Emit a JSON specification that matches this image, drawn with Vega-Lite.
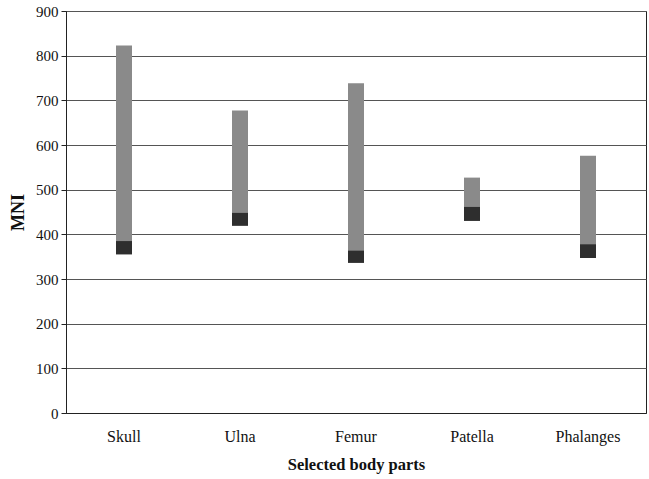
{
  "$schema": "https://vega.github.io/schema/vega-lite/v6.json",
  "autosize": "none",
  "width": 580,
  "height": 402,
  "padding": {"left": 66, "top": 11, "right": 3, "bottom": 66},
  "background": "#ffffff",
  "config": {
    "font": "Liberation Serif",
    "view": {"stroke": "#222222", "strokeWidth": 1}
  },
  "data": {
    "values": [
      {"part": "Skull", "low": 355, "mid": 385, "high": 823},
      {"part": "Ulna", "low": 419, "mid": 448, "high": 677},
      {"part": "Femur", "low": 336, "mid": 364, "high": 738},
      {"part": "Patella", "low": 430, "mid": 462, "high": 527},
      {"part": "Phalanges", "low": 347, "mid": 378, "high": 576}
    ]
  },
  "encoding": {
    "x": {
      "field": "part",
      "type": "nominal",
      "sort": null,
      "scale": {"paddingInner": 0, "paddingOuter": 0},
      "axis": {
        "title": "Selected body parts",
        "titleFont": "Liberation Serif",
        "titleFontSize": 16.5,
        "titleFontWeight": "bold",
        "titleColor": "#111111",
        "titlePadding": 12,
        "labelAngle": 0,
        "labelFont": "Liberation Serif",
        "labelFontSize": 16,
        "labelColor": "#111111",
        "labelPadding": 15,
        "ticks": false,
        "domainColor": "#222222",
        "domainWidth": 1
      }
    }
  },
  "layer": [
    {
      "mark": {"type": "bar", "size": 16, "color": "#8a8a8a"},
      "encoding": {
        "y": {
          "field": "mid",
          "type": "quantitative",
          "scale": {"domain": [0, 900]},
          "axis": {
            "title": "MNI",
            "titleFont": "Liberation Serif",
            "titleFontSize": 18,
            "titleFontWeight": "bold",
            "titleColor": "#111111",
            "titlePadding": 8,
            "values": [0, 100, 200, 300, 400, 500, 600, 700, 800, 900],
            "labelFont": "Liberation Serif",
            "labelFontSize": 15,
            "labelColor": "#111111",
            "labelPadding": 3,
            "tickColor": "#222222",
            "tickSize": 5,
            "domainColor": "#222222",
            "grid": true,
            "gridColor": "#555555",
            "gridWidth": 1
          }
        },
        "y2": {"field": "high"}
      }
    },
    {
      "mark": {"type": "bar", "size": 16, "color": "#2e2e2e"},
      "encoding": {
        "y": {"field": "low", "type": "quantitative"},
        "y2": {"field": "mid"}
      }
    }
  ]
}
